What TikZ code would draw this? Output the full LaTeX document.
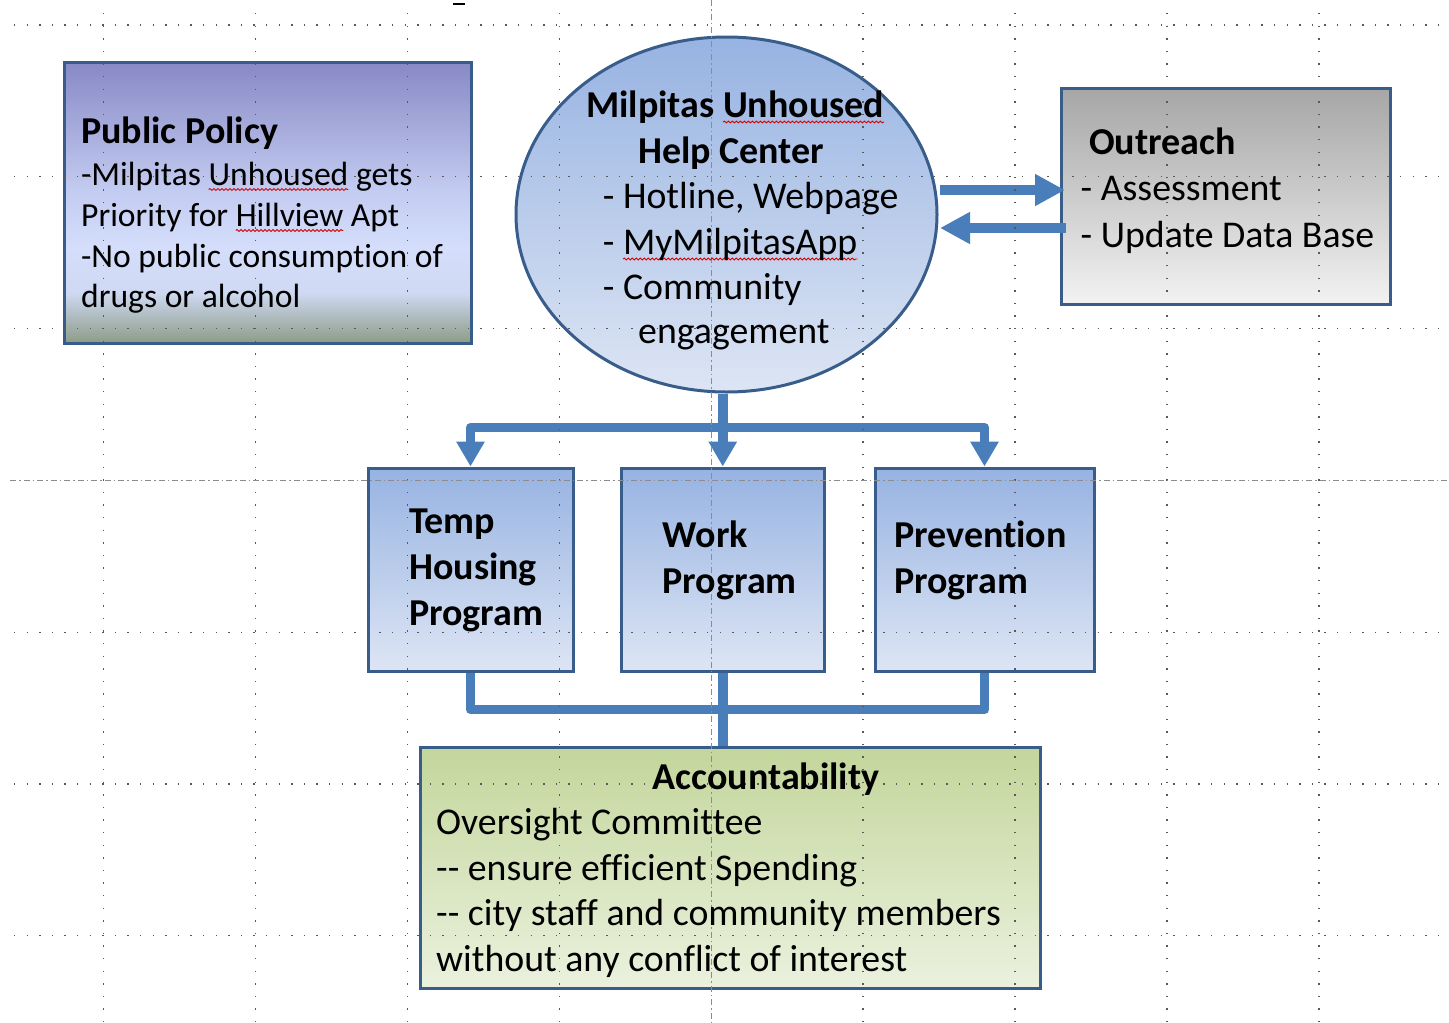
\documentclass[tikz,border=0pt]{standalone}
\usepackage{fontspec}
\setmainfont{Carlito}[Ligatures=NoCommon]
\usetikzlibrary{shapes.geometric,arrows.meta,decorations.pathmorphing}
\newsavebox\sqbox
\newlength\sqw
\newcommand\redsq[1]{\sbox\sqbox{#1}\setlength\sqw{\wd\sqbox}\rlap{\tikz[overlay]\draw[red!85!black, line width=0.9pt, decorate, decoration={snake, amplitude=0.9pt, segment length=4pt}] (0pt,-4.5pt) -- (\sqw,-4.5pt);}\usebox\sqbox}
\definecolor{bordc}{HTML}{385D8A}
\definecolor{linec}{HTML}{4A7EBB}
\definecolor{blueT}{HTML}{97B3E2}
\definecolor{blueB}{HTML}{DDE5F4}
\definecolor{grayT}{HTML}{A6A6A6}
\definecolor{grayB}{HTML}{F2F2F2}
\definecolor{greenT}{HTML}{C3D69B}
\definecolor{greenB}{HTML}{EBF1DE}
\definecolor{pptop}{HTML}{8889C6}
\definecolor{pphi}{HTML}{C3CCF1}
\definecolor{ppmid}{HTML}{D4DEFB}
\definecolor{pplow}{HTML}{CFD9F3}
\definecolor{ppbot}{HTML}{8C9C86}
\pgfdeclareverticalshading{ppshade}{100bp}{color(0bp)=(ppbot); color(25bp)=(ppbot); color(34bp)=(pplow); color(42bp)=(ppmid); color(52bp)=(pphi); color(75bp)=(pptop); color(100bp)=(pptop)}
\tikzset{
  boxsty/.style={draw=bordc, line width=3pt, inner sep=0pt},
  bluefill/.style={top color=blueT, bottom color=blueB},
  txt/.style={inner sep=0pt, anchor=base west, font=\fontsize{37.8}{44}\selectfont},
  ttl/.style={inner sep=0pt, anchor=base west, font=\fontsize{38}{44}\selectfont\bfseries},
  pptxt/.style={inner sep=0pt, anchor=base west, font=\fontsize{33.6}{40}\selectfont},
  connline/.style={draw=linec, line width=9.5pt, line join=round},
  downarr/.style={-{Triangle[length=25pt,width=27pt]}},
  sidearr/.style={-{Triangle[length=30pt,width=30pt]}},
  gridline/.style={draw=black!65, line width=1.4pt, dash pattern=on 1.4pt off 11.2pt},
  centerline/.style={draw=black!45, line width=1pt, dash pattern=on 6pt off 3pt on 1.5pt off 3pt},
}
\begin{document}
\begin{tikzpicture}[x=1pt,y=-1pt]
\useasboundingbox (0,0) rectangle (1449,1023);
\fill[white] (0,0) rectangle (1449,1023);

% shapes
\node[boxsty, shade, shading=ppshade, minimum width=407pt, minimum height=280.5pt] (pp) at (267.5,202.75) {};
\node[boxsty, ellipse, bluefill, minimum width=421pt, minimum height=355pt] (hc) at (726.5,214.5) {};
\node[boxsty, top color=grayT, bottom color=grayB, minimum width=329.5pt, minimum height=216pt] (out) at (1225.75,196) {};
\node[boxsty, bluefill, minimum width=205pt, minimum height=203pt] (temp) at (470.5,569.5) {};
\node[boxsty, bluefill, minimum width=202.5pt, minimum height=203pt] (work) at (722.75,569.5) {};
\node[boxsty, bluefill, minimum width=219pt, minimum height=203pt] (prev) at (984.5,569.5) {};
\node[boxsty, top color=greenT, bottom color=greenB, minimum width=620pt, minimum height=241pt] (acc) at (730,867.5) {};

% connectors
\coordinate (r1) at (940,190);
\path (out.west |- r1) ++(5.5,0) coordinate (r2);
\coordinate (l1) at (1066,228);
\coordinate (l2) at (940,228);
\draw[connline, sidearr] (r1) -- (r2);
\draw[connline, sidearr] (l1) -- (l2);

\path (work.north) ++(0,-39) coordinate (j1);
\path (work.south) ++(0,37) coordinate (j2);
\draw[connline] (hc.south -| j1) -- (j1);
\draw[connline, downarr] (j1) -| (temp.north);
\draw[connline, downarr] (j1) -| (prev.north);
\draw[connline, downarr] (j1) -- (work.north);
\draw[connline] (temp.south) |- (j2) -| (prev.south);
\draw[connline] (work.south) -- (work.south |- acc.north);

% grid
\foreach \gx in {103.5,255.5,407.3,559.2,863,1015,1167,1319}
  \draw[gridline] (\gx,13) -- (\gx,1023);
\foreach \gy in {25,176.7,328.3,632.3,784,935.7}
  \draw[gridline] (14,\gy) -- (1449,\gy);
\draw[centerline] (711,0) -- (711,1023);
\draw[centerline] (10,480) -- (1449,480);
\draw[line width=1.5pt] (453,4) -- (465,4);

% texts
\node[ttl] (pp0) at (81,143.5) {Public Policy};
\node[pptxt] (pp1) at (81,185) {-Milpitas \redsq{Unhoused} gets};
\node[pptxt] (pp2) at (81,226) {Priority for \redsq{Hillview} Apt};
\node[pptxt] (pp3) at (81,267) {-No public consumption of};
\node[pptxt] (pp4) at (81,307.5) {drugs or alcohol};

\node[ttl] (hc1) at (586,117.5) {Milpitas \redsq{Unhoused}};
\node[ttl] (hc2) at (638,163.5) {Help Center};
\node[txt] (hc3) at (602.7,208.5) {- Hotline, Webpage};
\node[txt] (hc4) at (602.7,254.5) {- \redsq{MyMilpitasApp}};
\node[txt] (hc5) at (602.7,299.5) {- Community};
\node[txt] (hc6) at (638,343.5) {engagement};

\node[ttl] (out0) at (1089,154.5) {Outreach};
\node[txt] (out1) at (1080.5,200.5) {- Assessment};
\node[txt] (out2) at (1080.5,247.5) {- Update Data Base};

\node[ttl] (temp1) at (409,533.5) {Temp};
\node[ttl] (temp2) at (409,579.5) {Housing};
\node[ttl] (temp3) at (409,625.5) {Program};
\node[ttl] (work1) at (662.5,547.5) {Work};
\node[ttl] (work2) at (662.5,593.5) {Program};
\node[ttl] (prev1) at (894,547.5) {Prevention};
\node[ttl] (prev2) at (894,593.5) {Program};

\node[ttl] (acc0) at (652.5,789.5) {Accountability};
\node[txt] (acc1) at (436,834.5) {Oversight Committee};
\node[txt] (acc2) at (436,880.5) {-\kern0pt- ensure efficient Spending};
\node[txt] (acc3) at (436,925.5) {-\kern0pt- city staff and community members};
\node[txt] (acc4) at (436,971) {without any conflict of interest};
\end{tikzpicture}
\end{document}
